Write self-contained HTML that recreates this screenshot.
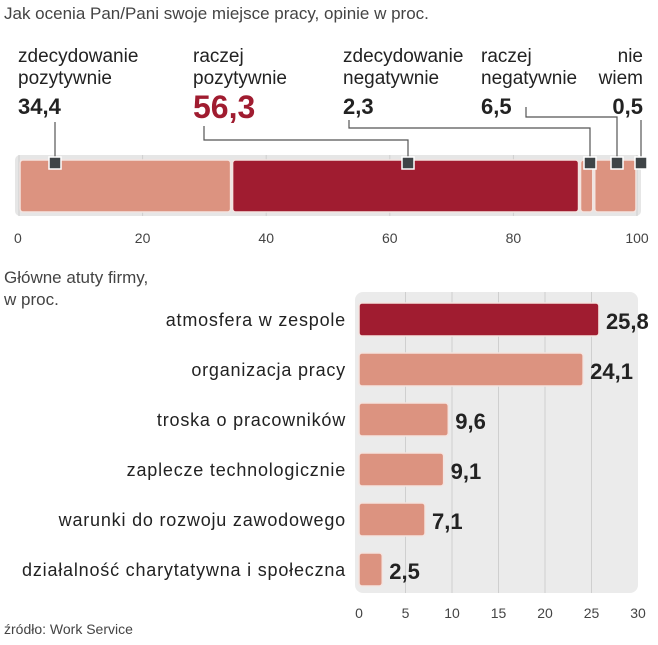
<!DOCTYPE html>
<html><head><meta charset="utf-8"><style>
body{margin:0;background:#fff;font-family:"Liberation Sans",sans-serif}
svg text{font-family:"Liberation Sans",sans-serif}
</style></head><body>
<svg width="658" height="640" viewBox="0 0 658 640">
<text x="4" y="19" font-size="17" fill="#444">Jak ocenia Pan/Pani swoje miejsce pracy, opinie w proc.</text>
<g id="topg"></g>
<text x="4" y="283" font-size="17" fill="#444">Główne atuty firmy,</text>
<text x="4" y="305" font-size="17" fill="#444">w proc.</text>
<g id="botg"></g>
<text x="4" y="634" font-size="14" fill="#444">źródło: Work Service</text>
</svg>
<script>
const segLabels1=["zdecydowanie","raczej","zdecydowanie","raczej","nie"];
const segLabels2=["pozytywnie","pozytywnie","negatywnie","negatywnie","wiem"];
const segValues=[34.4,56.3,2.3,6.5,0.5];
const segText=["34,4","56,3","2,3","6,5","0,5"];
const topTicks=[0,20,40,60,80,100];
const cats=["atmosfera w zespole","organizacja pracy","troska o pracowników","zaplecze technologicznie","warunki do rozwoju zawodowego","działalność charytatywna i społeczna"];
const vals=[25.8,24.1,9.6,9.1,7.1,2.5];
const valText=["25,8","24,1","9,6","9,1","7,1","2,5"];
const botTicks=[0,5,10,15,20,25,30];

const NS="http://www.w3.org/2000/svg";
function mk(p,t,a){const e=document.createElementNS(NS,t);for(const k in a)e.setAttribute(k,a[k]);p.appendChild(e);return e;}
const topG=document.getElementById('topg'), botG=document.getElementById('botg');
const xT=v=>19+v*6.18;
let bg=mk(topG,'rect',{x:15,y:155,width:626,height:61,rx:5,fill:'#e6e6e6'});


topTicks.forEach(t=>{
 let l=mk(topG,'line',{x1:xT(t),x2:xT(t),y1:155,y2:216,stroke:'#cfcfcf'});
 
 
 let tx=mk(topG,'text',{x:t==0?14:xT(t),y:243,'font-size':14,fill:'#444','text-anchor':t==0?'start':'middle'});tx.textContent=t;
 
 
});
let cum=0;
const segCols=['#dc9380','#a01c30','#dc9380','#dc9380','#dc9380'];
segValues.forEach((v,i)=>{
 const x0=xT(cum),x1=xT(Math.min(100,cum+v));
 if(i<4){let r=mk(topG,'rect',{x:x0+1,y:160,width:Math.max(1,(i==3?xT(100)-x0:x1-x0)-2),height:52,rx:3,fill:segCols[i],stroke:'#f4e4e0','stroke-width':1.5});
 
 }
 cum+=v;
});
const lblX=[18,193,343,481,643];
const sqX=[55,408,590,617,641];
segLabels1.forEach((s,i)=>{
 const anc=i==4?'end':'start';
 let a=mk(topG,'text',{x:lblX[i],y:62,'font-size':19,fill:'#222','text-anchor':anc});a.textContent=s;
 
 
 let b=mk(topG,'text',{x:lblX[i],y:84,'font-size':19,fill:'#222','text-anchor':anc});b.textContent=segLabels2[i];
 
 
 let c=mk(topG,'text',{x:lblX[i],y:i==1?118:114,'font-size':i==1?32:22,'font-weight':'bold',fill:i==1?'#a01c30':'#222','text-anchor':anc});c.textContent=segText[i];
 
 
});
const paths=["M55 122V165","M204 126V140H408V165","M349 120V128H590V165","M526 107V117H617V165","M641 120V165"];
paths.forEach(d=>{let p=mk(topG,'path',{d:d,stroke:'#555',fill:'none','stroke-width':1.2});
 
 });
sqX.forEach(x=>{let r=mk(topG,'rect',{x:x-6,y:157,width:12,height:12,fill:'#3f4447',stroke:'#fff','stroke-width':1.5});
 
 });
const xB=v=>359+v*9.3;
let bg2=mk(botG,'rect',{x:355,y:292,width:283,height:301,rx:8,fill:'#ebebeb'});


botTicks.forEach(t=>{
 if(t>0&&t<30){let l=mk(botG,'line',{x1:xB(t),x2:xB(t),y1:292,y2:593,stroke:'#cfcfcf'});
 
 }
 let tx=mk(botG,'text',{x:xB(t),y:618,'font-size':14,fill:'#444','text-anchor':'middle'});tx.textContent=t;
 
 
});
cats.forEach((c,i)=>{
 const y=303+i*50;
 let r=mk(botG,'rect',{x:359,y:y,width:xB(vals[i])-359,height:33,rx:3,fill:i==0?'#a01c30':'#dc9380',stroke:'#f4e4e0','stroke-width':1.5});
 
 
 let l=mk(botG,'text',{x:346,y:y+23,'font-size':18,'letter-spacing':0.8,fill:'#222','text-anchor':'end'});l.textContent=c;
 
 
 let v=mk(botG,'text',{x:xB(vals[i])+7,y:y+26,'font-size':22,'font-weight':'bold',fill:'#222'});v.textContent=valText[i];
 
 
});
</script>
</body></html>
